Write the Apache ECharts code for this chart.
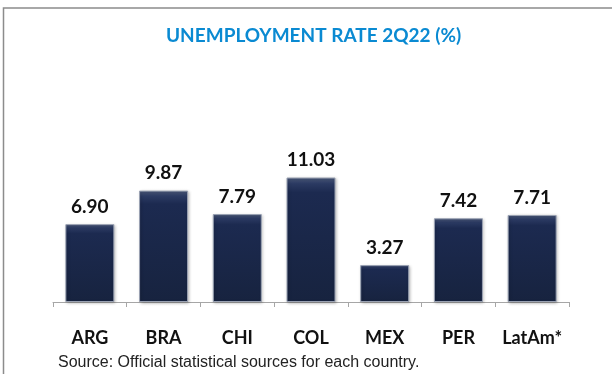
<!DOCTYPE html>
<html>
<head>
<meta charset="utf-8">
<script src="https://cdn.jsdelivr.net/npm/echarts@6/dist/echarts.min.js"></script>
<style>
  html, body { margin: 0; padding: 0; background: #fff; }
  #chart { width: 612px; height: 374px; }
</style>
</head>
<body>
<div id="chart"></div>
<script>
// unemployment rate by country, 2Q22
const categories = ["ARG", "BRA", "CHI", "COL", "MEX", "PER", "LatAm*"];
const rates = [6.90, 9.87, 7.79, 11.03, 3.27, 7.42, 7.71];

const myChart = echarts.init(document.getElementById("chart"));

const option = {
  backgroundColor: "#fff",
  animation: false,
  title: {
    text: "UNEMPLOYMENT RATE 2Q22 (%)",
    left: 161,
    top: 21,
    textStyle: {
      color: "#0a8ad2",
      fontFamily: "Lato",
      fontWeight: "bold",
      fontSize: 19,
    },
  },
  graphic: [
    // frame round the chart
    {
      type: "polyline",
      shape: { points: [[3.5, 380], [3.5, 8], [620, 8]] },
      style: { stroke: "#8c8c8c", lineWidth: 1.5, fill: null },
    },
    {
      type: "text",
      left: 58,
      top: 355,
      style: {
        text: "Source: Official statistical sources for each country.",
        fill: "#222",
        font: "16px 'Liberation Sans', Arial, sans-serif",
      },
    },
  ],
  grid: {
    top: 144,
    bottom: 72,
    left: 53,
    right: 43,
  },
  xAxis: {
    type: "category",
    data: categories,
    axisLine: {
      lineStyle: { color: "#a6a6a6", width: 1 },
    },
    axisTick: {
      show: true,
      length: 5,
      lineStyle: { color: "#a6a6a6" },
    },
    axisLabel: {
      interval: 0,
      margin: 27,
      color: "#111",
      fontFamily: "Lato",
      fontWeight: "bold",
      fontSize: 18,
    },
  },
  yAxis: {
    type: "value",
    min: 0,
    max: 14,
    show: false,
    splitLine: { show: false },
  },
  series: [
    {
      type: "bar",
      data: rates,
      barWidth: 49,
      itemStyle: {
        color: new echarts.graphic.LinearGradient(0, 0, 0, 1, [
          { offset: 0, color: "#4d5b7c" },
          { offset: 0.05, color: "#2b3a62" },
          { offset: 0.12, color: "#1c2a50" },
          { offset: 1, color: "#17233f" },
        ]),
        borderColor: "#9aa2b3",
        borderWidth: 1,
        shadowColor: "rgba(0,0,0,0.25)",
        shadowBlur: 3,
        shadowOffsetX: 1,
        shadowOffsetY: 1,
      },
      label: {
        show: true,
        position: "top",
        distance: 8,
        color: "#111",
        fontFamily: "Lato",
        fontWeight: "bold",
        fontSize: 19,
        formatter: (p) => p.value.toFixed(2),
      },
    },
  ],
};

myChart.setOption(option);
window.addEventListener("resize", () => {
  myChart.resize();
});
</script>
</body>
</html>
